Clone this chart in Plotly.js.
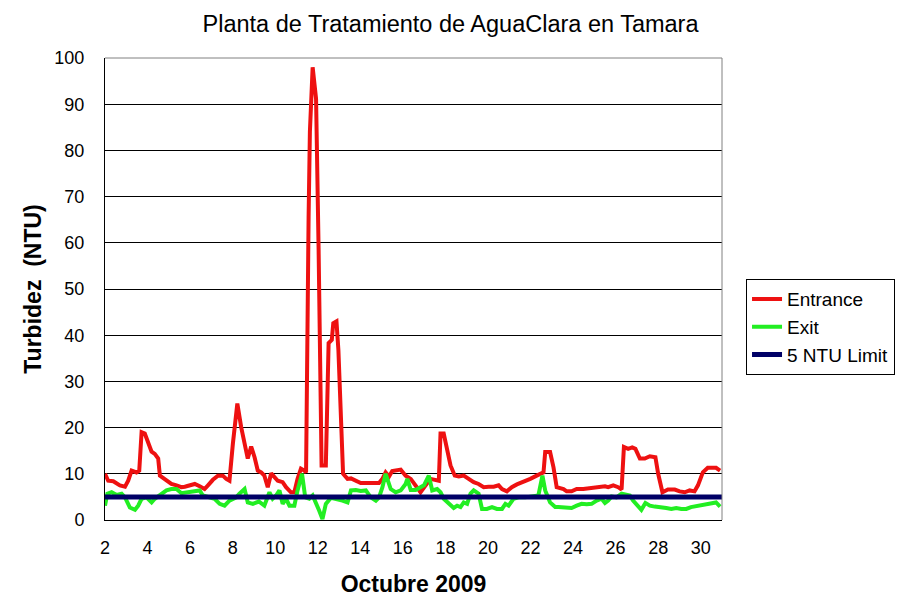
<!DOCTYPE html>
<html>
<head>
<meta charset="utf-8">
<script src="https://cdn.plot.ly/plotly-3.0.1.min.js"></script>
<style>
  html, body { margin: 0; padding: 0; background: #fff; }
  #chart { width: 901px; height: 615px; }
</style>
</head>
<body>
<div id="chart"></div>
<script>
// day of October (decimal) and turbidity readings
const entranceDays = [
  2.00, 2.15, 2.39, 2.55, 2.70, 2.94, 3.09, 3.25, 3.48, 3.61, 3.72, 3.87, 4.03, 4.19, 4.34, 4.50,
  4.58, 4.73, 4.89, 5.12, 5.36, 5.59, 5.75, 5.98, 6.22, 6.45, 6.68, 6.84, 7.07, 7.31, 7.54, 7.70,
  7.85, 8.01, 8.22, 8.40, 8.64, 8.71, 8.87, 9.03, 9.18, 9.34, 9.49, 9.65, 9.81, 9.96, 10.12, 10.35,
  10.51, 10.74, 10.90, 11.05, 11.21, 11.37, 11.45, 11.57, 11.63, 11.76, 11.92, 12.04, 12.18, 12.38,
  12.51, 12.66, 12.73, 12.88, 12.97, 13.19, 13.40, 13.56, 13.79, 14.02, 14.41, 14.88, 15.04, 15.19,
  15.35, 15.50, 15.90, 16.13, 16.37, 16.60, 16.83, 17.07, 17.30, 17.69, 17.77, 17.92, 18.08, 18.24,
  18.44, 18.63, 18.86, 19.10, 19.33, 19.56, 19.80, 20.03, 20.27, 20.50, 20.66, 20.89, 21.12, 21.36,
  21.67, 21.99, 22.29, 22.61, 22.69, 22.92, 23.08, 23.23, 23.55, 23.70, 23.93, 24.17, 24.48, 24.87,
  25.26, 25.50, 25.65, 25.89, 26.12, 26.28, 26.39, 26.59, 26.78, 26.93, 27.14, 27.37, 27.61, 27.87,
  28.00, 28.20, 28.46, 28.78, 29.01, 29.25, 29.48, 29.71, 29.87, 30.10, 30.33, 30.56, 30.72, 30.91,
];
const entranceNTU = [
  10.0, 8.5, 8.4, 7.8, 7.5, 7.2, 8.5, 10.7, 10.3, 10.7, 19.0, 18.7, 16.9, 14.8, 14.3, 13.3,
  9.6, 9.1, 8.7, 7.8, 7.5, 7.1, 7.2, 7.5, 7.8, 7.3, 6.7, 7.5, 8.7, 9.6, 9.6, 8.9,
  8.5, 16.5, 25.2, 20.1, 15.1, 13.3, 15.9, 13.6, 10.7, 10.3, 9.6, 7.1, 10.1, 9.3, 8.5, 8.2,
  7.1, 6.0, 6.0, 8.9, 11.1, 10.7, 10.3, 65.8, 84.0, 98.0, 91.2, 58.5, 11.8, 11.8,
  38.3, 39.0, 42.6, 43.0, 36.8, 10.0, 8.9, 9.0, 8.5, 8.0, 8.0, 8.0, 8.9, 10.3,
  9.4, 10.6, 10.9, 9.6, 8.9, 7.5, 6.0, 7.5, 8.9, 8.5, 18.7, 18.7, 15.1, 11.8,
  9.6, 9.4, 9.6, 8.9, 8.2, 7.8, 7.1, 7.2, 7.2, 7.5, 6.7, 6.2, 7.1, 7.7,
  8.2, 8.9, 9.6, 10.3, 14.7, 14.7, 11.4, 7.1, 6.7, 6.2, 6.2, 6.7, 6.7, 6.9,
  7.1, 7.3, 7.1, 7.5, 7.1, 6.6, 15.8, 15.4, 15.7, 15.4, 13.3, 13.3, 13.8, 13.6,
  10.0, 6.0, 6.6, 6.6, 6.2, 6.0, 6.4, 6.2, 7.5, 10.3, 11.3, 11.4, 11.3, 10.7,
];

const exitDays = [
  2.00, 2.11, 2.31, 2.55, 2.78, 2.94, 3.17, 3.41, 3.56, 3.72, 3.95, 4.19, 4.34, 4.50, 4.73, 4.89,
  5.12, 5.36, 5.59, 5.83, 6.06, 6.30, 6.45, 6.60, 6.84, 7.15, 7.39, 7.62, 7.85, 8.17, 8.32, 8.56,
  8.71, 8.95, 9.23, 9.49, 9.73, 9.88, 10.04, 10.20, 10.35, 10.51, 10.67, 10.90, 11.05, 11.26,
  11.41, 11.60, 11.76, 11.92, 12.07, 12.22, 12.38, 12.62, 12.85, 13.16, 13.40, 13.56, 13.79, 14.02,
  14.26, 14.49, 14.73, 14.88, 15.04, 15.19, 15.43, 15.66, 15.90, 16.13, 16.21, 16.37, 16.60, 16.83,
  16.99, 17.22, 17.38, 17.61, 17.77, 17.92, 18.16, 18.39, 18.55, 18.71, 18.86, 19.02, 19.18, 19.33,
  19.56, 19.72, 19.95, 20.19, 20.42, 20.66, 20.82, 20.97, 21.20, 21.44, 21.75, 22.37, 22.56, 22.69,
  22.92, 23.16, 23.31, 23.62, 23.93, 24.17, 24.40, 24.64, 24.87, 25.11, 25.34, 25.50, 25.65, 25.81,
  26.04, 26.28, 26.51, 26.67, 26.82, 27.06, 27.21, 27.40, 27.61, 27.84, 28.15, 28.38, 28.62, 28.85,
  29.09, 29.32, 29.54, 29.87, 30.18, 30.49, 30.72, 30.91,
];
const exitNTU = [
  3.1, 5.7, 6.0, 5.4, 5.7, 4.9, 2.7, 2.2, 3.1, 4.6, 4.9, 3.8, 4.6, 5.1, 5.7, 6.4,
  6.7, 6.7, 5.8, 6.0, 6.0, 6.4, 6.4, 5.3, 4.9, 4.6, 3.5, 3.1, 4.2, 4.9, 5.7, 6.7,
  3.8, 3.5, 4.0, 3.1, 6.0, 4.6, 5.3, 6.4, 3.5, 4.6, 3.1, 3.1, 6.4, 10.0,
  4.9, 4.6, 5.3, 3.8, 2.0, 0.2, 3.5, 4.8, 4.6, 4.2, 3.8, 6.4, 6.5, 6.3,
  6.4, 4.9, 4.2, 4.9, 7.1, 10.0, 6.7, 6.0, 6.4, 7.8, 8.9, 6.5, 6.5, 7.1,
  7.5, 9.6, 6.4, 6.7, 6.0, 4.6, 3.5, 2.6, 3.1, 2.8, 3.8, 3.5, 5.7, 6.4,
  5.7, 2.4, 2.4, 2.8, 2.4, 2.4, 3.5, 3.1, 4.6, 4.9, 4.9, 5.3, 9.6, 6.4,
  3.8, 2.8, 2.8, 2.6, 2.6, 3.1, 3.5, 3.4, 3.5, 4.2, 4.6, 3.7, 4.2, 5.1,
  4.9, 5.7, 5.5, 5.3, 4.2, 3.1, 2.2, 3.7, 3.1, 2.9, 2.8, 2.6, 2.4, 2.6,
  2.4, 2.4, 2.8, 3.1, 3.5, 3.8, 3.8, 2.9,
];

// regulatory limit drawn across the whole month
const limitDays = [2, 31];
const limitNTU = [5, 5];

const xTicks = [2, 4, 6, 8, 10, 12, 14, 16, 18, 20, 22, 24, 26, 28, 30];

const FONT = 'Liberation Sans, Arial, Helvetica, sans-serif';

const traces = [
  {
    // Entrance
    type: 'scatter',
    mode: 'lines',
    name: 'Entrance',
    x: entranceDays,
    y: entranceNTU,
    line: { color: '#EE1111', width: 4 },
  },
  {
    // Exit
    type: 'scatter',
    mode: 'lines',
    name: 'Exit',
    x: exitDays,
    y: exitNTU,
    line: { color: '#22EE22', width: 4 },
  },
  {
    // 5 NTU Limit
    type: 'scatter',
    mode: 'lines',
    name: '5 NTU Limit',
    x: limitDays,
    y: limitNTU,
    line: { color: '#000066', width: 5 },
  },
];

const layout = {
  width: 901,
  height: 615,
  paper_bgcolor: '#fff',
  plot_bgcolor: '#fff',
  font: { family: FONT, color: '#000', size: 18 },
  margin: { l: 105, r: 179, t: 58, b: 95 },
  title: {
    text: 'Planta de Tratamiento de AguaClara en Tamara',
    font: { family: FONT, size: 23.5, color: '#000' },
    x: 0.5,
    xref: 'container',
    xanchor: 'center',
    y: 0.961,
    yref: 'container',
    yanchor: 'middle',
  },
  xaxis: {
    range: [2, 31],
    tickmode: 'array',
    tickvals: xTicks,
    ticktext: xTicks.map(String),
    ticks: '',
    ticklabelstandoff: 11,
    showgrid: false,
    zeroline: false,
    showline: true,
    linecolor: '#000',
    linewidth: 1,
    tickfont: { family: FONT, size: 18, color: '#000' },
    title: {
      text: '<b>Octubre 2009</b>',
      standoff: 19,
      font: { family: FONT, size: 23, color: '#000' },
    },
  },
  yaxis: {
    range: [0, 100],
    dtick: 10,
    ticks: '',
    ticklabelstandoff: 16,
    showgrid: true,
    gridcolor: '#000',
    gridwidth: 1,
    zeroline: false,
    showline: true,
    linecolor: '#000',
    linewidth: 1,
    tickfont: { family: FONT, size: 18, color: '#000' },
    title: {
      text: '<b>Turbidez  (NTU)</b>',
      standoff: 6,
      font: { family: FONT, size: 23, color: '#000' },
    },
  },
  showlegend: true,
  // legend placed against the whole figure so it does not squeeze the plot area
  legend: {
    xref: 'container',
    yref: 'container',
    x: 0.828,
    xanchor: 'left',
    y: 0.468,
    yanchor: 'middle',
    bgcolor: '#fff',
    bordercolor: '#000',
    borderwidth: 1,
    font: { family: FONT, size: 19, color: '#000' },
    itemwidth: 30,
  },
  // grey frame on the top and right side of the plot area
  shapes: [
    {
      type: 'line', xref: 'paper', yref: 'paper', x0: 0, x1: 1, y0: 1, y1: 1,
      line: { color: '#808080', width: 1 }, layer: 'above',
    },
    {
      type: 'line', xref: 'paper', yref: 'paper', x0: 1, x1: 1, y0: 0, y1: 1,
      line: { color: '#808080', width: 1 }, layer: 'above',
    },
  ],
};

Plotly.newPlot('chart', traces, layout, { displayModeBar: false, staticPlot: true });
</script>
</body>
</html>
